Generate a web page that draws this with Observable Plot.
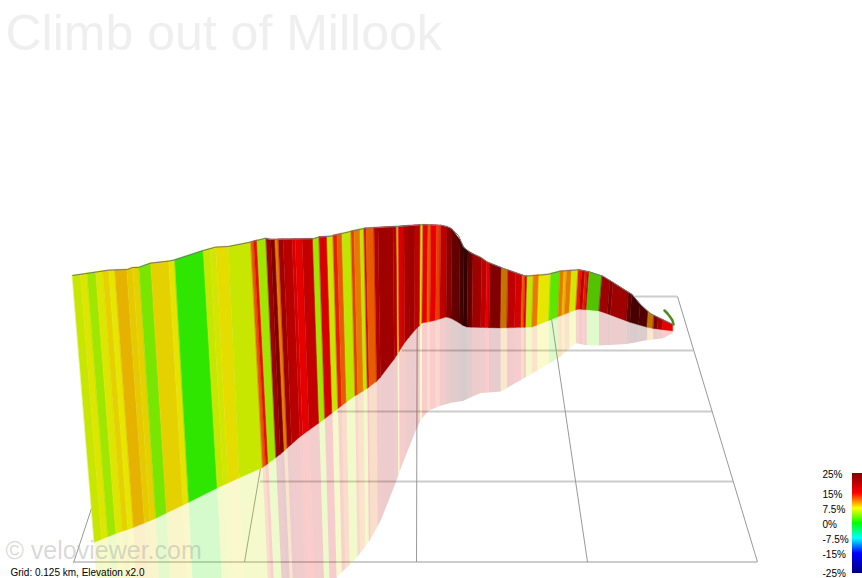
<!DOCTYPE html>
<html>
<head>
<meta charset="utf-8">
<script src="https://cdn.jsdelivr.net/npm/d3@7"></script>
<script src="https://cdn.jsdelivr.net/npm/@observablehq/plot@0.6"></script>
<style>html,body{margin:0;padding:0;background:#fff;overflow:hidden}svg{display:block}</style>
</head>
<body>
<div id="chart"></div>
<script>
const titleText = "Climb out of Millook";
const watermarkText = "© veloviewer.com";
const footerText = "Grid: 0.125 km, Elevation x2.0";

// Edges of the gradient stripes along the crest, and the gradient (%) of each stripe
const stripeEdges = [72.3,80.3,87,95.7,102.7,108.7,114.7,126.7,132.7,139,150.7,168.7,174.7,203.3,210,215.7,228.3,250.7,253.7,257,266,270.7,275,278.3,283,292,295,302,313,319,327,333,337,342,351,354,360,364,366,374,378,393,396.7,398.2,404,409,415,420.7,423,428,431,436.7,440.7,447,452,460,464,468,473,481.7,486.7,490,501.7,508,515.7,522.3,525,527.3,533.3,539,550.7,560,564,566.7,571.7,578.3,581.7,585,587.3,589.3,602,610,613,628.3,631.7,640,648.3,654,658,663,672.7];
const stripeGrades = [6.5,7.2,5.2,7.2,8.2,7.5,9.2,8.4,8.2,3.9,8.2,7.6,1.5,6.5,6.8,7.8,6.5,12,14.5,5.2,22,25,11,22,19.5,17,15,18.5,5.2,16.5,6.5,14,12,6.2,13,11,6.2,16,12,20,22,20,8,16.5,21,22,19,6.5,15,12,15,13,19,24,28,31,33,28,22,19,15,25,10.5,19,17,12,16.5,6.2,11,7.5,3,11,9,11,6.8,14,19,14,19,3.2,22,25,22,28,31,30,10.5,25,21,15];
// Left edges of the stripes that are lit less than the others
const shadedStripes = [501.7,589.3,648.3];

// Crest of the wall
const crestX = [72.3,95,108,127,132,138,150,168,175,203,215,228,250,265,268,313,318,330,350,365,393,423,442,450,458,463,470,480,487,503,525,547,560,578,590,603,632,640,650,673];
const crestY = [275,271.7,269.7,269,267,267,262.7,260.7,259.3,250,246.7,246,241.7,237.7,239,238.3,236.7,235.7,231,227.7,226.3,224.3,225,227.3,235,246.7,252.3,256.7,261.7,268,275.7,274,270.7,269.3,271.7,276,294.3,304,313.3,324.3];
// Foot of the wall
const footX = [94.3,117,135,157,188,217,239,262,280,300,323,353,365,377,385,395,405,415,422,433,447,455,462,467,502,532,550,578,600,632,650,673];
const footY = [542.3,533,527,517.7,502.7,488,478,468,454.5,436.7,420,397,390,381,372,358,342,330,323,321,316.7,320,325,327,328,327,320,309,311,323,328,331];
// Horizontal shift from crest to foot (perspective)
const leanAt = [72.3,175,203,228,253,265,316,370,423,508,560,603,673];
const leanBy = [22,14,14,11,12,10,6,3,-1,-1,-2,-3,0];
// Horizontal shift from foot to the far edge of the reflection
const mirrorLeanAt = [72.3,200,265,330,370,423,673];
const mirrorLeanBy = [14,11,9,4,1,0,0];
// Far edge of the reflection
const mirrorX = [108,205,250,300,337,347,355,370,380,388,400,410,418,424,430,440,450,463,480,500,533,560,575,590,627,647,667,673];
const mirrorY = [815,735,695,632,577,567,560,540,522,505,470,445,425,415,410,406,403,401,393,392,373,357,343,346,344,340,338,333];
// Tail of the route
const tailX = [664,667,670,672,673];
const tailY = [310,313,317,320,324];

// Ground grid
const rowY = [296,350,411,481,561.5];
const rowFrom = [635,402,337,260,73];
const rowTo = [677,693,712,733,757];
const colTopX = [91,260,416.7,551,677];
const colTopY = [508,468,320,318,296];
const colBottomX = [73.3,244,416,587,757];
const colBottomY = [561.5,561.5,561.5,561.5,561.5];

// Gradient legend
const legendLabels = ["25%","15%","7.5%","0%","-7.5%","-15%","-25%"];
const legendStops = [25,15,7.5,0,-7.5,-15,-25];
const legendColors = ["#800000","#ff0000","#ffff00","#00ff00","#00ffff","#0000ff","#000080"];
const legendSteps = d3.range(-25,25,0.5);

const wallDomain = [-25,-15,-7.5,0,7.5,15,25,35];
const wallRange = ["#000073","#0000e6","#00e6e6","#00e600","#e6e600","#e60000","#800000","#200000"];

const crest = d3.scaleLinear(crestX, crestY);
const foot = d3.scaleLinear(footX, footY);
const lean = d3.scaleLinear(leanAt, leanBy);
const mirrorLean = d3.scaleLinear(mirrorLeanAt, mirrorLeanBy);
const mirror = d3.scaleLinear(mirrorX, mirrorY);
const legendY = d3.scaleLinear([25,-25],[473,573]);
const legendColor = d3.scaleLinear(legendStops, legendColors);

const station = x => {
  const fx = x + lean(x), rx = fx + mirrorLean(x);
  return {tx:x, ty:crest(x), fx, fy:foot(fx), rx, ry:mirror(rx)};
};
const stripeRows = stripeGrades.flatMap((grade,i)=>[
  {id:i, grade, ...station(stripeEdges[i])},
  {id:i, grade, ...station(stripeEdges[i+1])}
]);
const shadedRows = stripeRows.filter(d=>shadedStripes.includes(stripeEdges[d.id]));
const crestRows = crestX.map((x,i)=>({x,y:crestY[i]}));
const tailRows = tailX.map((x,i)=>({x,y:tailY[i]}));
const rows = rowY.map((y,i)=>({x1:rowFrom[i],x2:rowTo[i],y}));
const cols = colTopX.map((x,i)=>({x1:x,y1:colTopY[i],x2:colBottomX[i],y2:colBottomY[i]}));
const sans = "Liberation Sans, Arial, sans-serif";

const chart = Plot.plot({
  width:862, height:578, margin:0,
  x:{domain:[0,862], range:[0,862], axis:null},
  y:{domain:[0,578], range:[0,578], axis:null},
  color:{type:"linear", domain:wallDomain, range:wallRange, interpolate:"rgb"},
  style:{background:"#fff", fontFamily:sans},
  marks:[
    Plot.ruleY(rows,{y:"y",x1:"x1",x2:"x2",stroke:"#cccccc",strokeWidth:1.8}),
    Plot.link(cols,{x1:"x1",y1:"y1",x2:"x2",y2:"y2",stroke:"#999999",strokeWidth:1}),
    Plot.area(stripeRows,{x1:"fx",y1:"fy",x2:"rx",y2:"ry",z:"id",fill:"grade",fillOpacity:0.2}),
    Plot.area(stripeRows,{x1:"tx",y1:"ty",x2:"fx",y2:"fy",z:"id",fill:"grade",stroke:"grade",strokeWidth:0.4}),
    Plot.area(shadedRows,{x1:"tx",y1:"ty",x2:"fx",y2:"fy",z:"id",fill:"#000",fillOpacity:0.15}),
    Plot.line(crestRows,{x:"x",y:"y",stroke:"#777777",strokeWidth:1}),
    Plot.line(tailRows,{x:"x",y:"y",stroke:"#4f8a1e",strokeWidth:2.5}),
    Plot.text([titleText],{x:()=>5,y:()=>33,text:d=>d,textAnchor:"start",fontSize:50,fill:"#efefef",fontFamily:sans}),
    Plot.text([watermarkText],{x:()=>5,y:()=>550,text:d=>d,textAnchor:"start",fontSize:25,fill:"#aaaaaa",fillOpacity:0.45,fontFamily:sans}),
    Plot.text([footerText],{x:()=>10,y:()=>572,text:d=>d,textAnchor:"start",fontSize:10,fill:"#000",fontFamily:sans}),
    Plot.rect(legendSteps,{x1:()=>852,x2:()=>862,y1:d=>legendY(d+0.5),y2:d=>legendY(d),fill:{value:d=>legendColor(d+0.25),scale:null}}),
    Plot.text(legendLabels,{x:()=>822,y:(d,i)=>Math.min(legendY(legendStops[i])+1,573),text:d=>d,textAnchor:"start",fontSize:10,fill:"#000",fontFamily:sans})
  ]
});
document.getElementById("chart").append(chart);
</script>
</body>
</html>
